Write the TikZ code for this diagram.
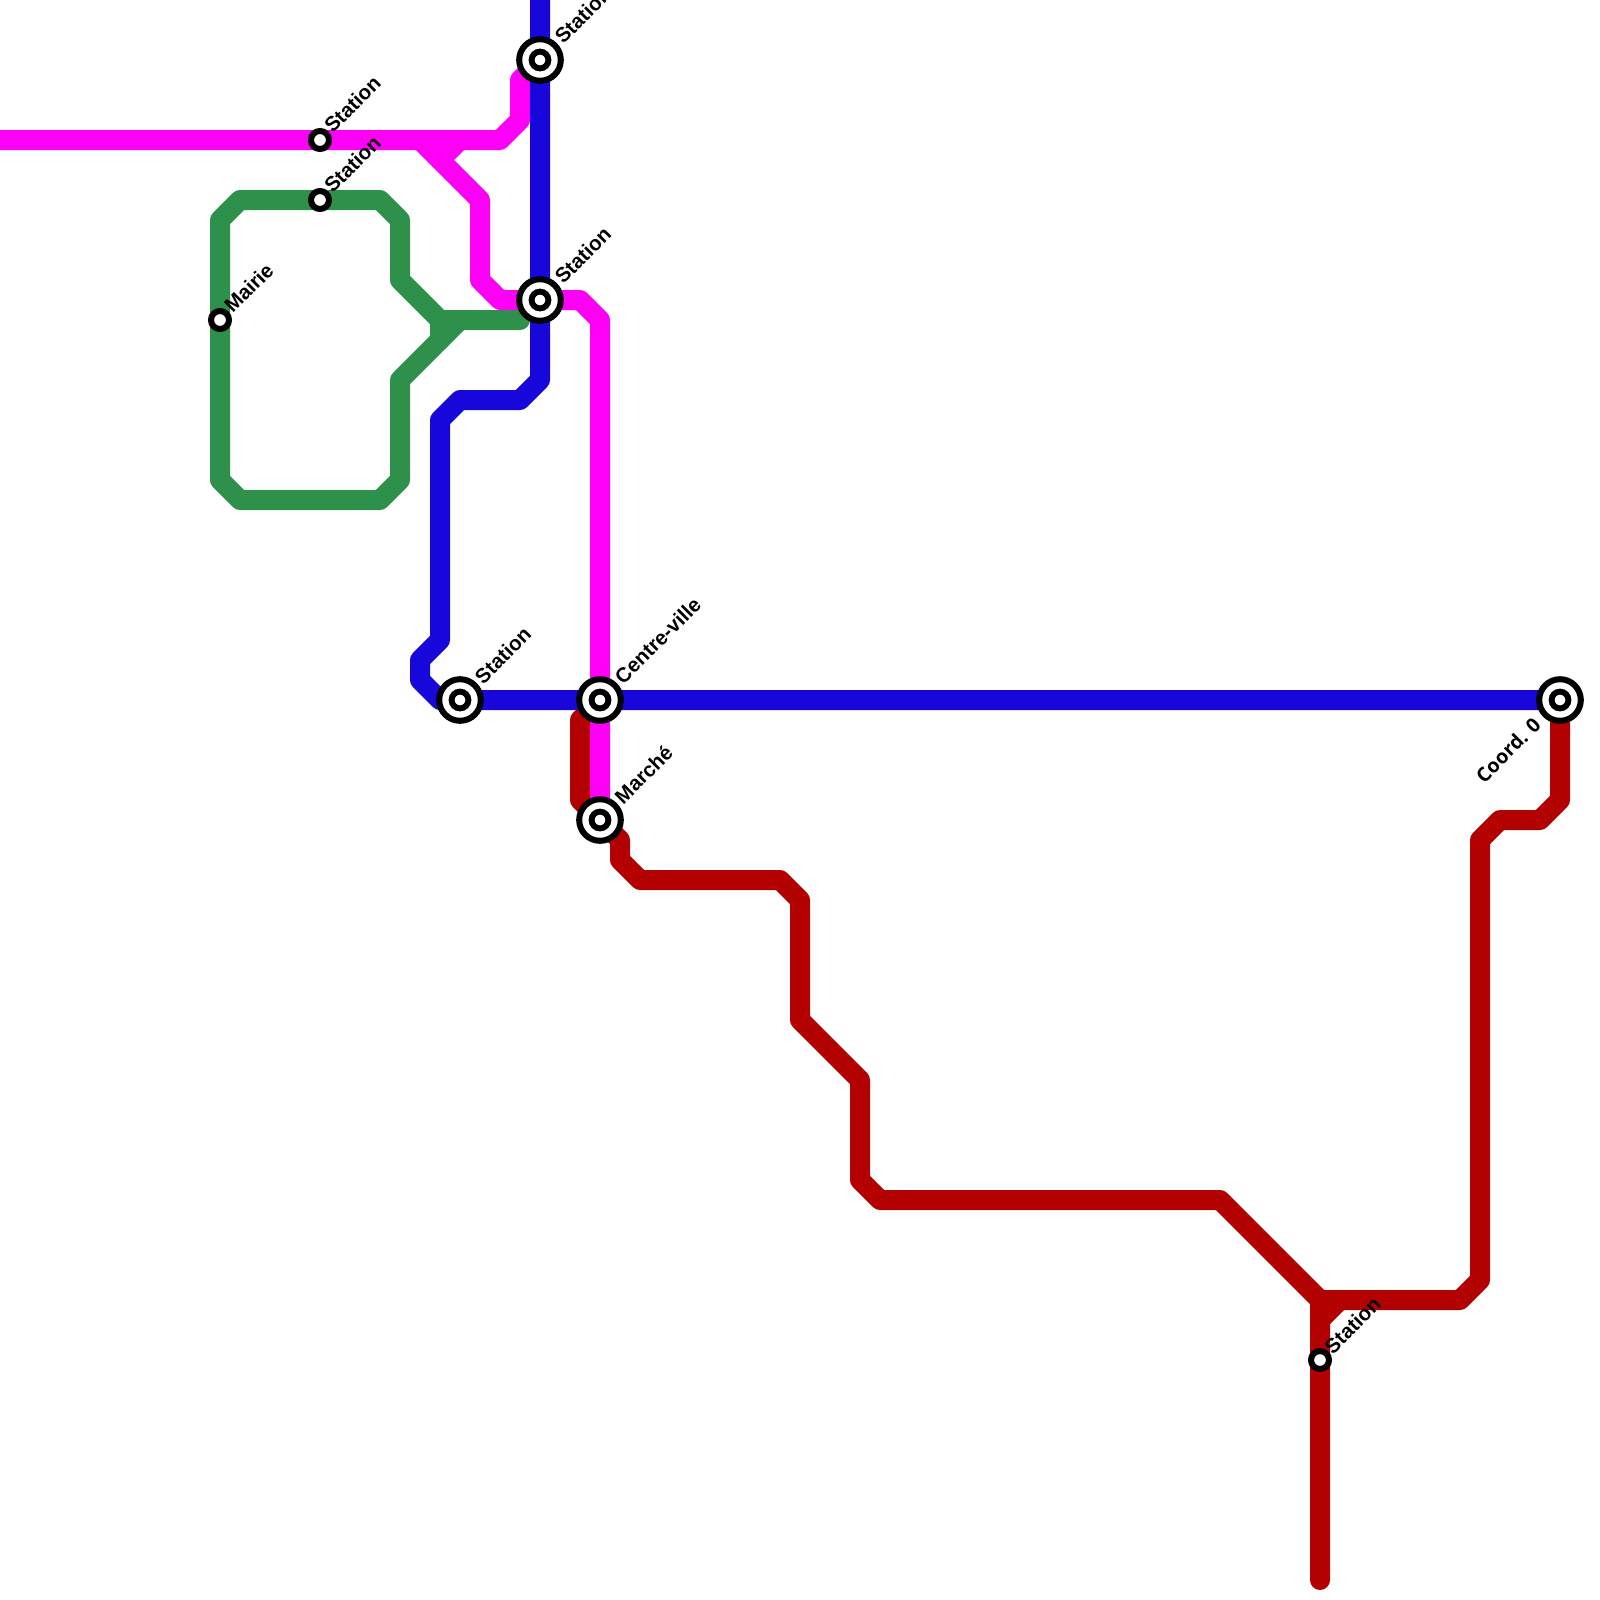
\documentclass[tikz,border=0pt]{standalone}
\usepackage{fontspec}
\setmainfont{Liberation Sans}
\newfontfamily\coordfont{Open Sans}
\usetikzlibrary{backgrounds}
\definecolor{lineRed}{HTML}{B30000}
\definecolor{lineBlue}{HTML}{1707DB}
\definecolor{lineGreen}{HTML}{2D914B}
\definecolor{lineMagenta}{HTML}{FF00F7}
\tikzset{
  metro/.style={line width=0.5cm,line cap=round,line join=round},
  bigstation/.style={circle,draw=black,fill=white,line width=4.3pt,minimum size=1.04cm,inner sep=0pt,
    path picture={\draw[black,line width=4.2pt] (path picture bounding box.center) circle (0.21cm);}},
  smallstation/.style={circle,draw=black,fill=white,line width=4.3pt,minimum size=0.45cm,inner sep=0pt},
  stationname/.style={font=\fontsize{14.6}{17}\selectfont\bfseries,rotate=45,anchor=west,inner sep=0pt}
}
\begin{document}
\begin{tikzpicture}[x=0.5cm,y=-0.5cm]
\useasboundingbox (0,0) rectangle (80,80);
\node[bigstation] (statA) at (27,3) {};
\node[bigstation] (statB) at (27,15) {};
\node[bigstation] (statC) at (23,35) {};
\node[bigstation] (centre) at (30,35) {};
\node[bigstation] (marche) at (30,41) {};
\node[bigstation] (coord) at (78,35) {};
\node[smallstation] (statD) at (16,7) {};
\node[smallstation] (statE) at (16,10) {};
\node[smallstation] (mairie) at (11,16) {};
\node[smallstation] (statF) at (66,68) {};
\begin{scope}[on background layer]
\draw[metro,lineRed] (centre.center) -- (29,36) -- (29,40) -- (marche.center) -- (31,42) -- (31,43) -- (32,44) -- (39,44) -- (40,45) -- (40,51) -- (43,54) -- (43,59) -- (44,60) -- (61,60) -- (66,65) -- (66,79);
\draw[metro,lineRed] (coord.center) -- (78,40) -- (77,41) -- (75,41) -- (74,42) -- (74,64) -- (73,65) -- (66,65);
\draw[metro,lineRed] (67,65) -- (66,66);
\draw[metro,lineGreen] (mairie.center) -- (11,11) -- (12,10) -- (19,10) -- (20,11) -- (20,14) -- (22,16) -- (26,16);
\draw[metro,lineGreen] (mairie.center) -- (11,24) -- (12,25) -- (19,25) -- (20,24) -- (20,19) -- (23,16);
\draw[metro,lineGreen] (22,16) -- (22,17);
\draw[metro,lineMagenta] (0,7) -- (25,7) -- (26,6) -- (26,4) -- (statA.center);
\draw[metro,lineMagenta] (21,7) -- (24,10) -- (24,14) -- (25,15) -- (29,15) -- (30,16) -- (marche.center);
\draw[metro,lineMagenta] (23,7) -- (22,8);
\draw[metro,lineBlue] (27,0) -- (27,19) -- (26,20) -- (23,20) -- (22,21) -- (22,32) -- (21,33) -- (21,34) -- (22,35) -- (statC.center) -- (coord.center);
\end{scope}
\node[stationname] (labelA) at ([shift={(0.9,-1)}]statA.center) {Station};
\node[stationname] (labelB) at ([shift={(0.9,-1)}]statB.center) {Station};
\node[stationname] (labelC) at ([shift={(0.9,-1)}]statC.center) {Station};
\node[stationname] (labelCentre) at ([shift={(0.9,-1)}]centre.center) {Centre-ville};
\node[stationname] (labelMarche) at ([shift={(0.9,-1)}]marche.center) {Marché};
\node[stationname] (labelD) at ([shift={(0.38,-0.55)}]statD.center) {Station};
\node[stationname] (labelE) at ([shift={(0.38,-0.55)}]statE.center) {Station};
\node[stationname] (labelMairie) at ([shift={(0.38,-0.55)}]mairie.center) {Mairie};
\node[stationname] (labelF) at ([shift={(0.38,-0.5)}]statF.center) {Station};
\node[stationname,anchor=east,font=\coordfont\fontsize{14}{17}\selectfont\bfseries] (labelCoord) at ([shift={(-1.15,1.05)}]coord.center) {Coord. 0};
\end{tikzpicture}
\end{document}
